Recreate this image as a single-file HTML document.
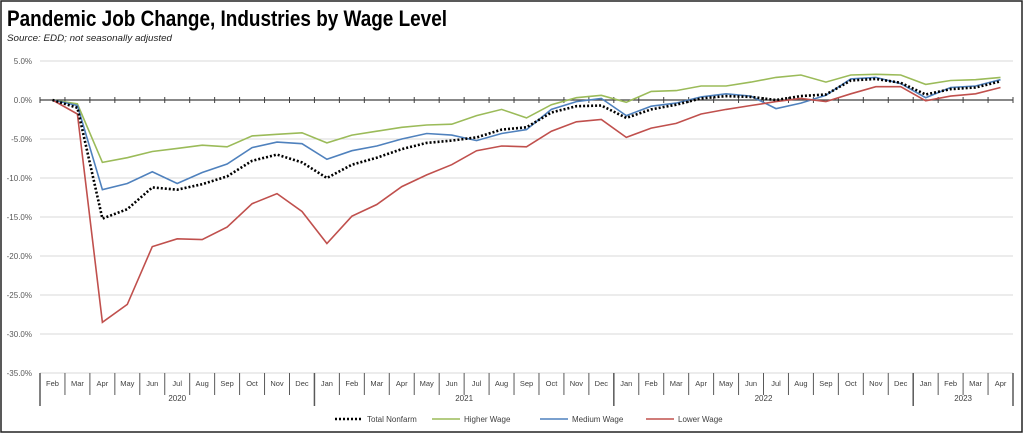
<!DOCTYPE html>
<html><head><meta charset="utf-8"><style>
body{margin:0;background:#fff}
svg{display:block;font-family:"Liberation Sans",sans-serif}
</style></head><body>
<svg id="s" width="1024" height="434" xmlns="http://www.w3.org/2000/svg">
<rect x="1" y="1" width="1021" height="431" fill="#fff" stroke="#222" stroke-width="1.5"/>
<text x="7" y="26" font-size="22" font-weight="bold" fill="#000" textLength="440" lengthAdjust="spacingAndGlyphs">Pandemic Job Change, Industries by Wage Level</text>
<text x="7" y="41" font-size="9.5" font-style="italic" fill="#222" textLength="165" lengthAdjust="spacingAndGlyphs">Source:  EDD; not seasonally adjusted</text>
<g id="g"></g>
</svg>
<script>
const g=document.getElementById('g');
const L=40,R=1013,N=39,cw=(R-L)/N;
const Y=v=>100-v*7.8;
let h='';
for(let v=5;v>=-35;v-=5){
 const y=Y(v);
 if(v!==0)h+=`<line x1="${L}" x2="${R}" y1="${y}" y2="${y}" stroke="#d9d9d9" stroke-width="1"/>`;
 h+=`<text x="32" y="${y+3}" font-size="8" fill="#595959" text-anchor="end">${v.toFixed(1)}%</text>`;
}
const months=['Feb','Mar','Apr','May','Jun','Jul','Aug','Sep','Oct','Nov','Dec','Jan','Feb','Mar','Apr','May','Jun','Jul','Aug','Sep','Oct','Nov','Dec','Jan','Feb','Mar','Apr','May','Jun','Jul','Aug','Sep','Oct','Nov','Dec','Jan','Feb','Mar','Apr'];
const yearB=[0,11,23,35,39];
for(let i=0;i<=N;i++){
 const x=L+i*cw;
 const big=yearB.includes(i);
 h+=`<line x1="${x}" x2="${x}" y1="373" y2="${big?406:395}" stroke="#595959" stroke-width="${big?1.5:1}"/>`;
 h+=`<line x1="${x}" x2="${x}" y1="97" y2="103" stroke="#404040" stroke-width="1"/>`;
}
months.forEach((m,i)=>{h+=`<text x="${L+(i+.5)*cw}" y="386" font-size="7.5" fill="#404040" text-anchor="middle">${m}</text>`});
['2020','2021','2022','2023'].forEach((yr,k)=>{const c=L+(yearB[k]+yearB[k+1])/2*cw;h+=`<text x="${c}" y="401" font-size="8" fill="#404040" text-anchor="middle">${yr}</text>`});
h+=`<line x1="${L}" x2="${R}" y1="100" y2="100" stroke="#404040" stroke-width="1.2"/>`;
const D={
tot:[0,-1,-15.2,-14,-11.2,-11.5,-10.8,-9.8,-7.8,-7,-8,-10,-8.3,-7.4,-6.3,-5.5,-5.2,-4.8,-3.8,-3.5,-1.6,-0.8,-0.7,-2.3,-1.2,-0.6,0.2,0.5,0.4,0,0.5,0.7,2.5,2.7,2.2,0.7,1.4,1.6,2.4],
hi:[0,-0.5,-8,-7.4,-6.6,-6.2,-5.8,-6,-4.6,-4.4,-4.2,-5.5,-4.5,-4,-3.5,-3.2,-3.1,-2,-1.2,-2.3,-0.6,0.3,0.6,-0.3,1.1,1.2,1.8,1.8,2.3,2.9,3.2,2.3,3.2,3.3,3.2,2,2.5,2.6,2.9],
med:[0,-0.7,-11.5,-10.7,-9.2,-10.7,-9.3,-8.2,-6.1,-5.4,-5.6,-7.6,-6.5,-5.9,-5,-4.3,-4.5,-5.2,-4.3,-3.8,-1.2,-0.2,0.2,-2,-0.8,-0.4,0.4,0.8,0.5,-1.1,-0.4,0.6,2.7,2.9,2.1,0.3,1.6,1.8,2.6],
lo:[0,-1.8,-28.5,-26.2,-18.8,-17.8,-17.9,-16.3,-13.3,-12,-14.3,-18.4,-14.9,-13.4,-11.1,-9.6,-8.3,-6.5,-5.9,-6,-4,-2.8,-2.5,-4.8,-3.6,-3,-1.8,-1.2,-0.7,-0.2,0.2,-0.2,0.8,1.7,1.7,-0.1,0.5,0.8,1.6]};
const pts=a=>a.map((v,i)=>`${(L+(i+.5)*cw).toFixed(1)},${Y(v).toFixed(1)}`).join(' ');
h+=`<polyline points="${pts(D.hi)}" fill="none" stroke="#9bbb59" stroke-width="1.6"/>`;
h+=`<polyline points="${pts(D.med)}" fill="none" stroke="#4f81bd" stroke-width="1.6"/>`;
h+=`<polyline points="${pts(D.lo)}" fill="none" stroke="#c0504d" stroke-width="1.6"/>`;
h+=`<polyline points="${pts(D.tot)}" fill="none" stroke="#000" stroke-width="2.6" stroke-dasharray="2 2"/>`;
const leg=[['Total Nonfarm','#000',1],['Higher Wage','#9bbb59',0],['Medium Wage','#4f81bd',0],['Lower Wage','#c0504d',0]];
const lx=[335,432,540,646];
leg.forEach((l,i)=>{const x=lx[i];
 h+=`<line x1="${x}" x2="${x+28}" y1="419" y2="419" stroke="${l[1]}" stroke-width="${l[2]?2.6:1.6}" ${l[2]?'stroke-dasharray="2 2"':''}/>`;
 h+=`<text x="${x+32}" y="422" font-size="8" fill="#404040">${l[0]}</text>`;});
g.innerHTML=h;
</script>
</body></html>
